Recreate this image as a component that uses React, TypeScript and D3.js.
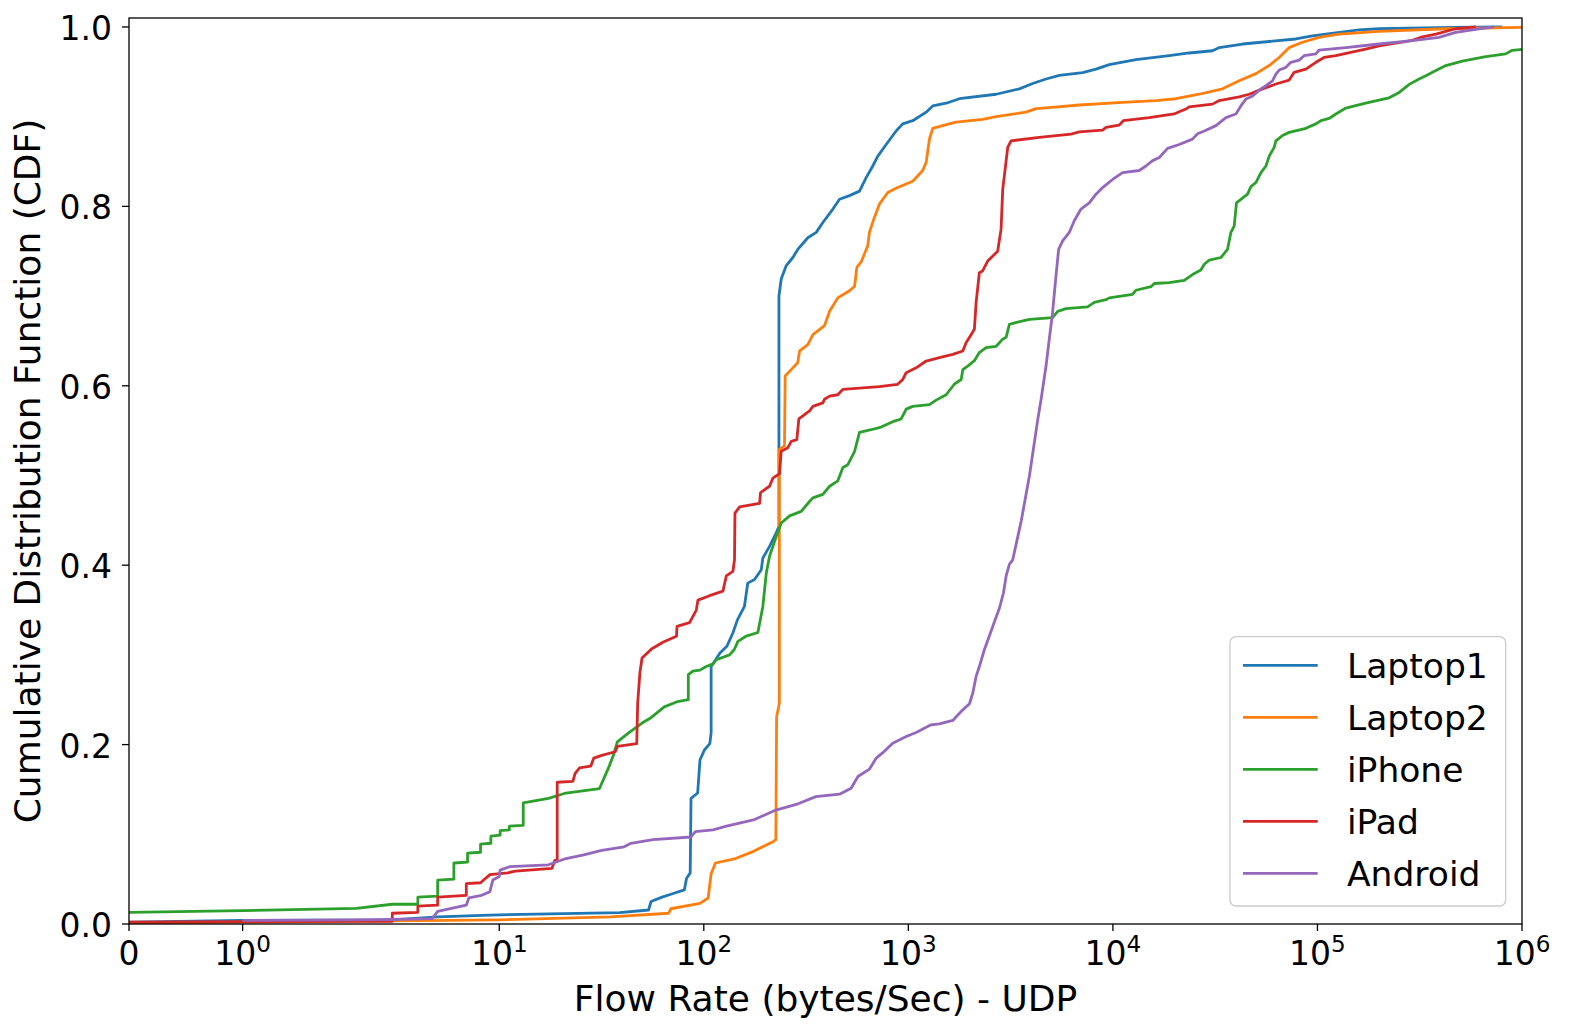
import React, { useEffect } from "react";
import * as d3 from "d3";

type Pt = [number, number];

const seriesNames = ["Laptop1", "Laptop2", "iPhone", "iPad", "Android"];
const seriesColors = ["#1f77b4", "#ff7f0e", "#2ca02c", "#d62728", "#9467bd"];

const laptop1: Pt[] = [
  [0, 0.002], [1, 0.004], [3, 0.0045], [5, 0.008], [9, 0.01], [38.8, 0.0126], [53.7, 0.0156],
  [55.2, 0.025], [62.5, 0.03], [70.9, 0.034], [80.3, 0.038], [82.4, 0.051], [85.8, 0.057],
  [86.6, 0.14], [93.3, 0.146], [95.8, 0.183], [100.7, 0.194], [107, 0.201], [108.6, 0.213],
  [108.6, 0.287], [120, 0.302], [129.6, 0.3095], [138.7, 0.3244], [146, 0.339], [158, 0.354],
  [164, 0.38], [177, 0.384], [191, 0.395], [194.4, 0.408], [209.6, 0.421], [226, 0.436],
  [233, 0.443], [233, 0.7], [239, 0.719], [253, 0.734], [272.5, 0.743], [288, 0.752],
  [322.5, 0.765], [354.6, 0.771], [382, 0.782], [427.6, 0.797], [460.7, 0.808], [515.6, 0.812],
  [577, 0.817], [622, 0.832], [670, 0.845], [709, 0.856], [779, 0.869], [871, 0.884],
  [939, 0.892], [1051, 0.8955], [1222, 0.905], [1316, 0.912], [1530, 0.915], [1777, 0.92],
  [2686, 0.925], [3490, 0.931], [4055, 0.937], [4710, 0.942], [5470, 0.946], [7110, 0.949],
  [8270, 0.953], [9600, 0.958], [12970, 0.9635], [18860, 0.968], [23610, 0.971], [30700, 0.9735],
  [33130, 0.977], [43050, 0.981], [78340, 0.9866], [94600, 0.99], [110000, 0.992],
  [160000, 0.9967], [200000, 0.998], [457000, 0.9996], [800000, 1.0],
];

const laptop2: Pt[] = [
  [0, 0.001], [10, 0.0045], [35.1, 0.008], [67.4, 0.012], [69, 0.017], [95.8, 0.023],
  [105, 0.029], [108.6, 0.056], [114, 0.068], [143, 0.073], [175, 0.081], [219, 0.092],
  [225, 0.094], [227, 0.231], [234, 0.246], [234, 0.529], [248, 0.533], [250, 0.611],
  [272.5, 0.62], [288, 0.626], [294, 0.639], [322.5, 0.646], [341.5, 0.657], [389, 0.667],
  [412, 0.683], [452, 0.698], [515.6, 0.706], [546, 0.711], [560, 0.732], [588, 0.738],
  [633, 0.756], [645, 0.771], [683, 0.788], [722, 0.8025], [793, 0.8155], [887, 0.821],
  [1051, 0.828], [1175, 0.84], [1222, 0.849], [1268, 0.875], [1316, 0.887], [1472, 0.89],
  [1711, 0.894], [2307, 0.897], [2686, 0.9], [3760, 0.905], [4210, 0.909], [4886, 0.91],
  [6850, 0.913], [11150, 0.916], [16250, 0.918], [20340, 0.92], [26400, 0.925], [34360, 0.931],
  [41440, 0.94], [50030, 0.948], [58080, 0.957], [65000, 0.966], [72740, 0.977], [84500, 0.983],
  [101900, 0.9885], [127600, 0.992], [200000, 0.995], [424000, 0.998], [1000000, 0.9996],
];

const iphone: Pt[] = [
  [0, 0.013], [1, 0.015], [2, 0.0175], [3, 0.022], [4, 0.022], [4, 0.03], [5, 0.031],
  [5, 0.049], [6, 0.05], [6, 0.068], [7, 0.069], [7, 0.079], [8.1, 0.08], [8.1, 0.089],
  [9.1, 0.09], [9.1, 0.098], [10.1, 0.099], [10.1, 0.104], [11.2, 0.105], [11.2, 0.109],
  [13.1, 0.11], [13.1, 0.135], [17.4, 0.14], [21.2, 0.146], [30.9, 0.151], [34.2, 0.174],
  [36, 0.187], [37.8, 0.203], [42.9, 0.213], [49.9, 0.224], [55.2, 0.23], [64.1, 0.242],
  [74.5, 0.248], [84, 0.25], [84, 0.278], [88.4, 0.282], [95.8, 0.283], [102.8, 0.287],
  [111, 0.29], [115, 0.2946], [133.6, 0.3], [141, 0.306], [146.8, 0.315], [161.4, 0.321],
  [183.8, 0.325], [194.4, 0.354], [202, 0.391], [209.6, 0.41], [226, 0.432], [239, 0.447],
  [262.6, 0.455], [299.4, 0.46], [328.8, 0.471], [341.5, 0.475], [382, 0.479], [412, 0.488],
  [452, 0.494], [478.6, 0.509], [506, 0.512], [546, 0.527], [577, 0.548], [658, 0.551],
  [736, 0.554], [839, 0.56], [922, 0.563], [976, 0.574], [1051, 0.577], [1268, 0.579],
  [1367, 0.584], [1530, 0.59], [1680, 0.602], [1813, 0.607], [1846, 0.618], [1951, 0.622],
  [2103, 0.628], [2224, 0.637], [2400, 0.6425], [2686, 0.644], [2893, 0.652], [3006, 0.654],
  [3118, 0.6685], [3420, 0.671], [3910, 0.674], [5070, 0.676], [5370, 0.683], [5900, 0.686],
  [7520, 0.688], [8110, 0.693], [9250, 0.696], [9600, 0.698], [12470, 0.702], [12960, 0.7065],
  [15350, 0.7105], [15930, 0.714], [18860, 0.715], [22330, 0.7176], [24500, 0.724],
  [26920, 0.729], [27970, 0.7355], [29580, 0.74], [33740, 0.743], [36330, 0.752],
  [37740, 0.771], [39170, 0.778], [40200, 0.804], [45510, 0.8136], [47300, 0.822],
  [50000, 0.8266], [52930, 0.8377], [55990, 0.845], [58100, 0.856], [61500, 0.866],
  [62650, 0.873], [67480, 0.879], [72780, 0.8825], [87760, 0.887], [98230, 0.892],
  [104000, 0.8955], [114000, 0.898], [123000, 0.903], [137700, 0.9096], [172000, 0.915],
  [200000, 0.9185], [224000, 0.921], [251000, 0.927], [281000, 0.936], [314000, 0.942],
  [339000, 0.9457], [365000, 0.9494], [424000, 0.957], [511000, 0.962], [665000, 0.967],
  [832000, 0.97], [897000, 0.974], [1000000, 0.975],
];

const ipad: Pt[] = [
  [0, 0.002], [2, 0.003], [3, 0.003], [3, 0.012], [4, 0.013], [4, 0.02], [5, 0.021],
  [5, 0.03], [6.9, 0.032], [6.9, 0.045], [8.1, 0.046], [9, 0.055], [11, 0.057], [12, 0.059],
  [18.1, 0.062], [18.7, 0.071], [19.2, 0.071], [19.2, 0.158], [22.9, 0.159], [23.5, 0.168],
  [24.7, 0.174], [28, 0.176], [29, 0.185], [31.7, 0.188], [36.9, 0.192], [37.8, 0.198],
  [47, 0.201], [47.5, 0.246], [48.7, 0.28], [49.9, 0.2965], [55.5, 0.3066], [63.1, 0.314],
  [73.5, 0.3207], [74, 0.3318], [85.2, 0.336], [91.9, 0.35], [93.6, 0.361], [106.7, 0.366],
  [124, 0.371], [128.8, 0.388], [138.7, 0.393], [141.3, 0.406], [142, 0.458], [149.6, 0.465],
  [187.4, 0.469], [189.4, 0.481], [209.5, 0.488], [217.5, 0.497], [234.6, 0.502], [239, 0.527],
  [257.7, 0.531], [267.6, 0.538], [285, 0.54], [291.5, 0.563], [328.9, 0.572], [341.5, 0.577],
  [382, 0.581], [389, 0.585], [412, 0.5885], [452, 0.59], [478, 0.596], [722, 0.599],
  [887, 0.6016], [939, 0.607], [976, 0.6146], [1092, 0.62], [1222, 0.6276], [1419, 0.6313],
  [1649, 0.635], [1846, 0.6388], [1915, 0.648], [2027, 0.657], [2103, 0.663], [2144, 0.6927],
  [2224, 0.726], [2307, 0.728], [2443, 0.739], [2733, 0.75], [2840, 0.7746], [2893, 0.819],
  [3061, 0.8657], [3178, 0.873], [4365, 0.877], [6240, 0.8806], [6850, 0.883], [8908, 0.885],
  [9250, 0.888], [10730, 0.8906], [11240, 0.8955], [15060, 0.899], [19950, 0.903],
  [21100, 0.9055], [22750, 0.9085], [23610, 0.911], [30700, 0.914], [33130, 0.918],
  [41440, 0.922], [46390, 0.925], [53850, 0.931], [62640, 0.9364], [72740, 0.9408],
  [76950, 0.9494], [87760, 0.953], [98230, 0.9606], [107800, 0.966], [123000, 0.968],
  [172000, 0.9754], [200000, 0.979], [291000, 0.985], [326000, 0.989], [379000, 0.992],
  [474000, 0.998], [594000, 1.0],
];

const android: Pt[] = [
  [1, 0.004], [2, 0.0045], [3, 0.005], [4.7, 0.006], [5, 0.014], [6.9, 0.021], [7.1, 0.029],
  [8.2, 0.032], [9, 0.036], [9.3, 0.049], [10, 0.053], [10.1, 0.06], [11.3, 0.064],
  [17.4, 0.066], [21.2, 0.073], [25.9, 0.077], [31.7, 0.082], [40.8, 0.086], [44, 0.09],
  [56.5, 0.094], [86.6, 0.097], [91, 0.103], [111, 0.105], [129, 0.109], [175, 0.116],
  [225, 0.127], [289, 0.134], [353, 0.142], [460.7, 0.1447], [525, 0.1514], [567, 0.1644],
  [645, 0.1726], [697, 0.185], [750, 0.191], [839, 0.2016], [976, 0.209], [1092, 0.2135],
  [1291, 0.222], [1419, 0.2232], [1649, 0.2269], [1813, 0.237], [1990, 0.2455], [2066, 0.2575],
  [2144, 0.276], [2224, 0.287], [2355, 0.306], [2489, 0.321], [2635, 0.337], [2787, 0.352],
  [2917, 0.369], [3006, 0.388], [3118, 0.401], [3238, 0.406], [3568, 0.45], [3910, 0.5],
  [4276, 0.56], [4457, 0.585], [4710, 0.622], [4886, 0.652], [5070, 0.6815], [5269, 0.7225],
  [5428, 0.752], [5680, 0.7615], [6122, 0.771], [6475, 0.784], [6982, 0.797], [7669, 0.804],
  [8267, 0.8136], [8908, 0.821], [9970, 0.83], [11150, 0.8377], [13450, 0.84], [14500, 0.845],
  [15640, 0.851], [16860, 0.8545], [18500, 0.8646], [21100, 0.869], [24500, 0.875],
  [25940, 0.881], [27970, 0.884], [31900, 0.89], [35700, 0.899], [39920, 0.903],
  [42240, 0.912], [44690, 0.9196], [48190, 0.923], [52930, 0.931], [55990, 0.9345],
  [60280, 0.94], [62640, 0.9475], [65000, 0.952], [70100, 0.955], [74130, 0.9606],
  [81400, 0.963], [86100, 0.968], [98230, 0.97], [101900, 0.9743], [137700, 0.977],
  [200000, 0.981], [291000, 0.9847], [393000, 0.9885], [474000, 0.994], [617000, 0.9978],
  [730000, 1.0],
];

const seriesData: Pt[][] = [laptop1, laptop2, iphone, ipad, android];

const xTickValues = [0, 1, 10, 100, 1000, 10000, 100000, 1000000];
const xTickExponents = ["", "0", "1", "2", "3", "4", "5", "6"];
const yTickValues = [0, 0.2, 0.4, 0.6, 0.8, 1.0];

const X_MAX = 1e6;
const Y_MAX = 1.01;
const LINTHRESH = 2;
const LINSCALE = 1;

const W = 1570;
const H = 1033;
const M = { left: 129, right: 1522, top: 18, bottom: 924 };

const linAdj = LINSCALE / (1 - 1 / 10);
function symlogT(v: number): number {
  const a = Math.abs(v);
  const s = Math.sign(v) || 1;
  if (a <= LINTHRESH) return s * (a / LINTHRESH) * linAdj;
  return s * (linAdj + Math.log10(a / LINTHRESH));
}

export default function App() {
  useEffect(() => {
    document.body.style.margin = "0";
  }, []);

  const xLin = d3.scaleLinear().domain([0, symlogT(X_MAX)]).range([M.left, M.right]);
  const x = (v: number) => xLin(symlogT(v));
  const y = d3.scaleLinear().domain([0, Y_MAX]).range([M.bottom, M.top]);

  const line = d3
    .line<Pt>()
    .x((d) => x(d[0]))
    .y((d) => y(d[1]))
    .curve(d3.curveLinear);

  const font = "'DejaVu Sans', sans-serif";
  const tickFs = 33;
  const labelFs = 36;
  const legendFs = 34.5;

  const legendX = 1230;
  const legendY = 636.7;
  const legendW = 275.7;
  const legendH = 269.3;

  return (
    <svg width={W} height={H} style={{ display: "block", background: "#fff" }} fontFamily={font}>
      <defs>
        <clipPath id="plot-clip">
          <rect x={M.left} y={M.top} width={M.right - M.left} height={M.bottom - M.top} />
        </clipPath>
      </defs>
      <rect x={0} y={0} width={W} height={H} fill="#fff" />

      <g clipPath="url(#plot-clip)">
        {seriesData.map((d, i) => (
          <path
            key={seriesNames[i]}
            d={line(d) || ""}
            fill="none"
            stroke={seriesColors[i]}
            strokeWidth={2.8}
            strokeLinejoin="round"
            strokeLinecap="butt"
          />
        ))}
      </g>

      {/* spines */}
      <rect
        x={M.left}
        y={M.top}
        width={M.right - M.left}
        height={M.bottom - M.top}
        fill="none"
        stroke="#000"
        strokeWidth={1.3}
      />

      {/* x ticks */}
      {xTickValues.map((v, i) => {
        const px = x(v);
        return (
          <g key={"xt" + i}>
            <line x1={px} x2={px} y1={M.bottom} y2={M.bottom + 7} stroke="#000" strokeWidth={1.3} />
            {v === 0 ? (
              <text x={px} y={965} fontSize={tickFs} textAnchor="middle" fill="#000">
                0
              </text>
            ) : (
              <text x={px} y={965} fontSize={tickFs} textAnchor="middle" fill="#000">
                10
                <tspan fontSize={tickFs * 0.7} dy={-12.7}>
                  {xTickExponents[i]}
                </tspan>
              </text>
            )}
          </g>
        );
      })}

      {/* y ticks */}
      {yTickValues.map((v, i) => {
        const py = y(v);
        return (
          <g key={"yt" + i}>
            <line x1={M.left - 7} x2={M.left} y1={py} y2={py} stroke="#000" strokeWidth={1.3} />
            <text x={112} y={py + 13} fontSize={tickFs} textAnchor="end" fill="#000">
              {v.toFixed(1)}
            </text>
          </g>
        );
      })}

      {/* axis labels */}
      <text
        x={(M.left + M.right) / 2}
        y={1011}
        fontSize={labelFs}
        textAnchor="middle"
        fill="#000"
      >
        Flow Rate (bytes/Sec) - UDP
      </text>
      <text
        transform={`translate(40, ${(M.top + M.bottom) / 2}) rotate(-90)`}
        fontSize={labelFs}
        textAnchor="middle"
        fill="#000"
      >
        Cumulative Distribution Function (CDF)
      </text>

      {/* legend */}
      <rect
        x={legendX}
        y={legendY}
        width={legendW}
        height={legendH}
        rx={6}
        ry={6}
        fill="#fff"
        fillOpacity={0.8}
        stroke="#cccccc"
        strokeWidth={1.3}
      />
      {seriesNames.map((name, i) => {
        const ly = 665.3 + i * 52;
        return (
          <g key={"lg" + name}>
            <line x1={1243} x2={1317.7} y1={ly} y2={ly} stroke={seriesColors[i]} strokeWidth={2.8} />
            <text x={1347} y={ly + 13} fontSize={legendFs} fill="#000">
              {name}
            </text>
          </g>
        );
      })}
    </svg>
  );
}
